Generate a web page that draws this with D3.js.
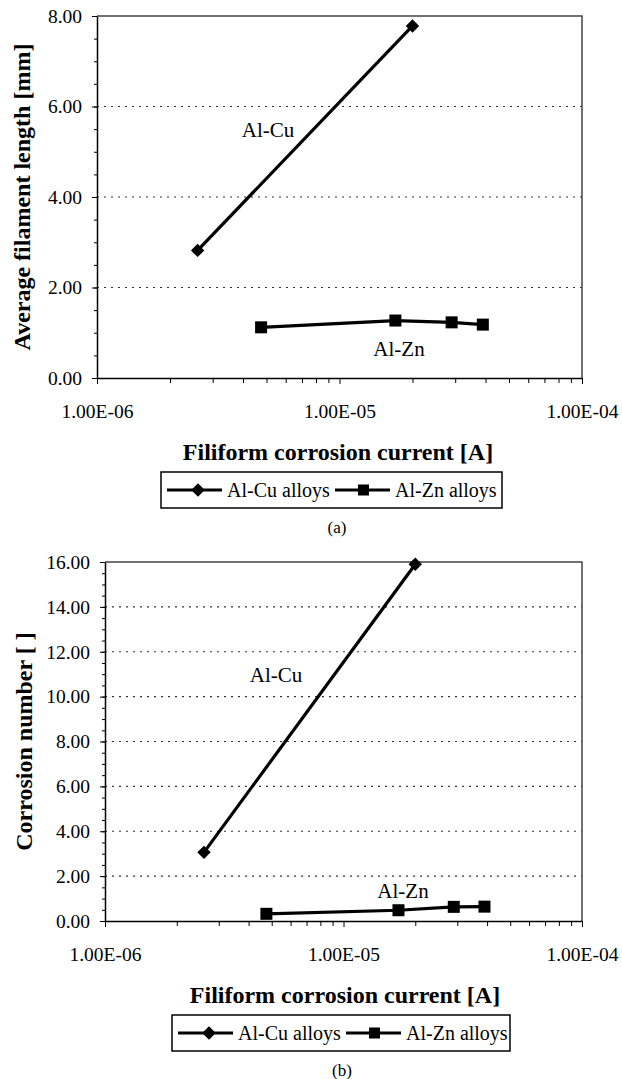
<!DOCTYPE html>
<html>
<head>
<meta charset="utf-8">
<script src="https://cdn.jsdelivr.net/npm/d3@7"></script>
<style>
  body { margin: 0; background: #fff; }
  svg text { font-family: "Liberation Serif", "Times New Roman", serif; fill: #000; }
</style>
</head>
<body>
<svg id="chart" width="622" height="1079"></svg>
<script>
// data
var cuCurrent = [2.6e-6, 2.0e-5];
var znCurrent = [4.75e-6, 1.7e-5, 2.9e-5, 3.9e-5];
var cuLength = [2.82, 7.78];
var znLength = [1.12, 1.27, 1.23, 1.18];
var cuNumber = [3.06, 15.9];
var znNumber = [0.32, 0.48, 0.63, 0.64];
var xTickValues = [1e-6, 1e-5, 1e-4];
var xTickLabels = ["1.00E-06", "1.00E-05", "1.00E-04"];
var seriesNames = ["Al-Cu alloys", "Al-Zn alloys"];
var lengthTicks = [0, 2, 4, 6, 8];
var numberTicks = [0, 2, 4, 6, 8, 10, 12, 14, 16];

var svg = d3.select("#chart");

function drawChart(c) {
    var g = svg.append("g");
    var x = d3.scaleLog().domain([1e-6, 1e-4]).range([c.left, c.right]);
    var y = d3.scaleLinear().domain([0, c.yMax]).range([c.bottom, c.top]);

    // dotted gridlines
    g.selectAll("line.grid")
        .data(c.yTicks.filter(function (d) { return d > 0 && d < c.yMax; }))
        .enter().append("line")
        .attr("x1", c.left).attr("x2", c.right)
        .attr("y1", function (d) { return y(d); })
        .attr("y2", function (d) { return y(d); })
        .attr("stroke", "#333")
        .attr("stroke-width", 1.2)
        .attr("stroke-dasharray", "2,5");

    // frame top / right
    g.append("path")
        .attr("d", "M" + c.left + "," + c.top + "H" + c.right + "V" + c.bottom)
        .attr("fill", "none").attr("stroke", "#444").attr("stroke-width", 1.5);

    // minor ticks
    var minorY = d3.range(0, c.yMax + 0.01, 0.5);
    g.append("g").attr("transform", "translate(" + c.left + ",0)")
        .call(d3.axisLeft(y).tickValues(minorY).tickSize(3).tickFormat(""))
        .call(function (a) { a.select(".domain").remove(); });
    var minorX = [];
    [1e-6, 1e-5].forEach(function (d) {
        for (var k = 2; k <= 9; k++) minorX.push(d * k);
    });
    g.append("g").attr("transform", "translate(0," + c.bottom + ")")
        .call(d3.axisBottom(x).tickValues(minorX).tickSize(5).tickFormat(""))
        .call(function (a) { a.select(".domain").remove(); });

    // major axes
    var ya = g.append("g").attr("transform", "translate(" + c.left + ",0)")
        .call(d3.axisLeft(y).tickValues(c.yTicks).tickSize(5).tickPadding(10)
            .tickFormat(d3.format(".2f")).tickSizeOuter(0));
    var xa = g.append("g").attr("transform", "translate(0," + c.bottom + ")")
        .call(d3.axisBottom(x).tickValues(xTickValues).tickSize(6).tickPadding(20)
            .tickFormat(function (d, i) { return xTickLabels[i]; }).tickSizeOuter(0));
    [ya, xa].forEach(function (a) {
        a.selectAll("text").attr("font-size", "19.5px");
        a.select(".domain").attr("stroke-width", 1.5);
    });

    // series
    var line = d3.line()
        .x(function (d) { return x(d[0]); })
        .y(function (d) { return y(d[1]); });
    var cu = d3.zip(cuCurrent, c.cu);
    var zn = d3.zip(znCurrent, c.zn);
    g.append("path").datum(cu).attr("d", line)
        .attr("fill", "none").attr("stroke", "#000").attr("stroke-width", 3.2);
    g.append("path").datum(zn).attr("d", line)
        .attr("fill", "none").attr("stroke", "#000").attr("stroke-width", 3.2);
    var diamond = d3.symbol().type(d3.symbolSquare).size(90);
    g.selectAll("path.cu").data(cu).enter().append("path")
        .attr("d", diamond)
        .attr("transform", function (d) { return "translate(" + x(d[0]) + "," + y(d[1]) + ") rotate(45)"; })
        .attr("fill", "#000");
    g.selectAll("rect.zn").data(zn).enter().append("rect")
        .attr("x", function (d) { return x(d[0]) - 6; })
        .attr("y", function (d) { return y(d[1]) - 6; })
        .attr("width", 12).attr("height", 12)
        .attr("fill", "#000");

    // annotations
    c.notes.forEach(function (n) {
        g.append("text").attr("x", n.x).attr("y", n.y)
            .attr("text-anchor", "middle").attr("font-size", "21px").text(n.t);
    });

    // axis titles
    g.append("text")
        .attr("transform", "translate(" + c.yTitleX + "," + ((c.top + c.bottom) / 2) + ") rotate(-90)")
        .attr("text-anchor", "middle").attr("font-size", "24px").attr("font-weight", "bold")
        .text(c.yTitle);
    g.append("text").attr("x", c.xTitleX).attr("y", c.bottom + 82)
        .attr("text-anchor", "middle").attr("font-size", "24px").attr("font-weight", "bold")
        .text("Filiform corrosion current [A]");

    // legend
    var ly = c.bottom + 94;
    var lg = g.append("g");
    lg.append("rect").attr("x", c.legX).attr("y", ly)
        .attr("width", c.legW).attr("height", 36)
        .attr("fill", "#fff").attr("stroke", "#000").attr("stroke-width", 1.5);
    var cy = ly + 18;
    var items = [{ x0: c.legX + 6, kind: "d" }, { x0: c.legX + 174, kind: "s" }];
    items.forEach(function (it, i) {
        lg.append("line").attr("x1", it.x0).attr("x2", it.x0 + 55)
            .attr("y1", cy).attr("y2", cy).attr("stroke", "#000").attr("stroke-width", 3);
        if (it.kind === "d") {
            lg.append("path").attr("d", diamond)
                .attr("transform", "translate(" + (it.x0 + 31) + "," + cy + ") rotate(45)");
        } else {
            lg.append("rect").attr("x", it.x0 + 23).attr("y", cy - 5.5).attr("width", 11).attr("height", 11);
        }
        lg.append("text").attr("x", it.x0 + 60).attr("y", cy + 6.5)
            .attr("font-size", "20px").text(seriesNames[i]);
    });

    // caption
    g.append("text").attr("x", c.capX).attr("y", c.bottom + 155)
        .attr("text-anchor", "middle").attr("font-size", "17px").text(c.caption);
}

drawChart({
    left: 97, right: 582, top: 16, bottom: 378, yMax: 8,
    yTicks: lengthTicks, cu: cuLength, zn: znLength,
    yTitle: "Average filament length [mm]", yTitleX: 30,
    xTitleX: 338, legX: 161, legW: 341, capX: 337, caption: "(a)",
    notes: [{ x: 268, y: 137, t: "Al-Cu" }, { x: 399, y: 356, t: "Al-Zn" }]
});

drawChart({
    left: 105, right: 582, top: 562, bottom: 921, yMax: 16,
    yTicks: numberTicks, cu: cuNumber, zn: znNumber,
    yTitle: "Corrosion number [ ]", yTitleX: 32,
    xTitleX: 345, legX: 172, legW: 338, capX: 342, caption: "(b)",
    notes: [{ x: 276, y: 682, t: "Al-Cu" }, { x: 403, y: 898, t: "Al-Zn" }]
});
</script>
</body>
</html>
